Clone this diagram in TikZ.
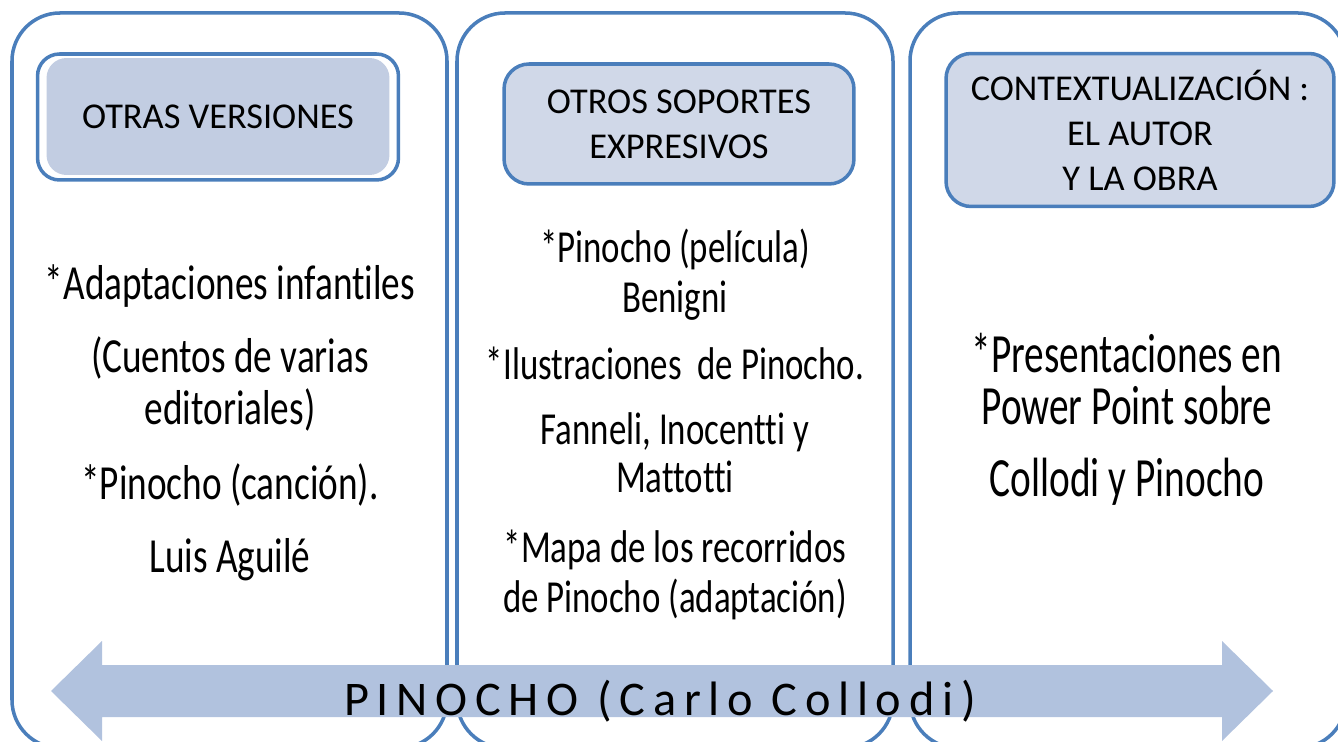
\documentclass[tikz,border=0pt]{standalone}
\usepackage{fontspec}
\setmainfont{Carlito}
\newfontfamily\narrowfont[FakeStretch=0.76, Ligatures=NoCommon]{Carlito}
\newfontfamily\narrowerfont[FakeStretch=0.71, Ligatures=NoCommon]{Carlito}
\newfontfamily\spacedfont[LetterSpace=16]{Carlito}
\usetikzlibrary{calc}

\definecolor{panelline}{RGB}{74,126,187}
\definecolor{headerfill}{RGB}{208,216,232}
\definecolor{headerinner}{RGB}{194,205,226}
\definecolor{arrowfill}{RGB}{177,194,222}

\begin{document}
\begin{tikzpicture}[x=0.02cm, y=-0.02cm,
    panel/.style={draw=panelline, line width=2pt, rounded corners=0.96cm},
    header/.style={draw=panelline, line width=2pt, fill=headerfill, rounded corners=0.5cm,
        align=center, font=\fontsize{20.7}{25.6}\selectfont},
    item/.style={anchor=base, inner sep=0pt},
    itemleft/.style={item, font=\narrowfont\fontsize{27.9}{30}\selectfont},
    itemmid/.style={item, font=\narrowfont\fontsize{26.1}{30}\selectfont},
    itemright/.style={item, font=\narrowerfont\fontsize{31.5}{34}\selectfont}]

    % Page frame
    \useasboundingbox (0,0) rectangle (1338,742);
    \clip (0,0) rectangle (1338,742);

    % Three columns
    \draw[panel] (12,13) rectangle (447,748);
    \draw[panel] (457,13) rectangle (893,748);
    \draw[panel] (910,13) rectangle (1346,748);

    % Column headers
    \node[header, fill=white, rounded corners=0.44cm, minimum width=7.22cm, minimum height=2.52cm,
        path picture={\fill[headerinner, rounded corners=0.4cm]
            ($(path picture bounding box.south west)+(0.18cm,0.1cm)$) rectangle
            ($(path picture bounding box.north east)+(-0.18cm,-0.08cm)$);}]
        (versiones) at (218,117) {OTRAS VERSIONES};
    \node[header, minimum width=7.0cm, minimum height=2.4cm] (soportes) at (679,124)
        {OTROS SOPORTES\\EXPRESIVOS};
    \node[header, minimum width=7.76cm, minimum height=3.06cm] (contexto) at (1140,130)
        {CONTEXTUALIZACIÓN :\\EL AUTOR\\Y LA OBRA};

    % Left column
    \node[itemleft] (adapt) at (230,300) {*Adaptaciones infantiles};
    \node[itemleft] (cuentos) at (230,373) {(Cuentos de varias};
    \node[itemleft] (edit) at (230,425) {editoriales)};
    \node[itemleft] (cancion) at (230,500) {*Pinocho (canción).};
    \node[itemleft] (aguile) at (230,573) {Luis Aguilé};

    % Middle column
    \node[itemmid] (pelicula) at (675,263) {*Pinocho (película)};
    \node[itemmid] (benigni) at (675,313) {Benigni};
    \node[itemmid] (ilustr) at (675,380) {*Ilustraciones\ \ de Pinocho.};
    \node[itemmid] (fanneli) at (675,445) {Fanneli, Inocentti y};
    \node[itemmid] (mattotti) at (675,493) {Mattotti};
    \node[itemmid] (mapa) at (675,562) {*Mapa de los recorridos};
    \node[itemmid] (recorr) at (675,612) {de Pinocho (adaptación)};

    % Right column
    \node[itemright] (present) at (1127,373) {*Presentaciones en};
    \node[itemright] (ppoint) at (1127,425) {Power Point sobre};
    \node[itemright] (collodi) at (1127,497) {Collodi y Pinocho};

    % Double arrow along the bottom
    \fill[arrowfill] (51,691) -- (102,641) -- (102,665) -- (1222,665) -- (1222,641)
        -- (1273,691) -- (1222,741) -- (1222,717) -- (102,717) -- (102,741) -- cycle;
    \node[anchor=base, inner sep=0pt, font=\spacedfont\fontsize{27.5}{30}\selectfont]
        (titulo) at (660,715) {PINOCHO (Carlo Collodi)};

\end{tikzpicture}
\end{document}
